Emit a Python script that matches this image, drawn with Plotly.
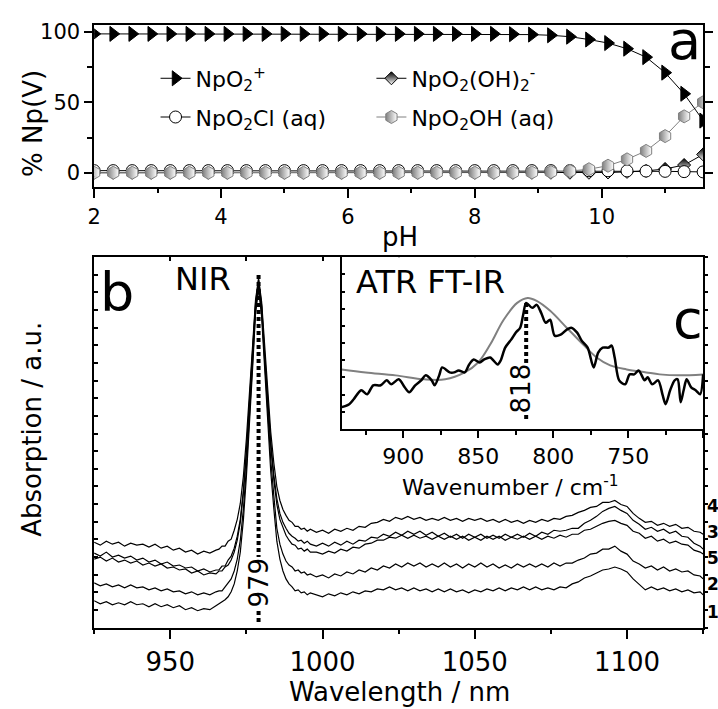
import plotly.graph_objects as go

FONT = "DejaVu Sans"
GRAY = "#808080"
W, H = 718, 709

# ---------------- (a) Np(V) speciation versus pH ----------------
PH = [2.0, 2.3, 2.6, 2.9, 3.2, 3.5, 3.8, 4.1, 4.4, 4.7, 5.0, 5.3, 5.6, 5.9, 6.2, 6.5,
      6.8, 7.1, 7.4, 7.7, 8.0, 8.3, 8.6, 8.9, 9.2, 9.5, 9.8, 10.1, 10.4, 10.7, 11.0,
      11.3, 11.6]
PCT_NPO2 = [98.5, 98.5, 98.5, 98.5, 98.5, 98.5, 98.5, 98.5, 98.5, 98.5, 98.5, 98.5,
            98.5, 98.5, 98.5, 98.5, 98.5, 98.5, 98.5, 98.5, 98.5, 98.5, 98.3, 98.0,
            97.5, 96.5, 94.5, 92.0, 88.0, 82.0, 71.0, 56.0, 37.0]
PCT_NPO2OH2 = [0, 0, 0, 0, 0, 0, 0, 0, 0, 0, 0, 0, 0, 0, 0, 0, 0, 0, 0, 0, 0, 0, 0,
               0, 0, 0, 0, 0.2, 0.6, 1.3, 2.7, 5.5, 13.0]
PCT_NPO2CL = [1.5, 1.5, 1.5, 1.5, 1.5, 1.5, 1.5, 1.5, 1.5, 1.5, 1.5, 1.5, 1.5, 1.5,
              1.5, 1.5, 1.5, 1.5, 1.5, 1.5, 1.5, 1.5, 1.5, 1.5, 1.5, 1.5, 1.4, 1.4,
              1.3, 1.2, 1.0, 0.8, 0.6]
PCT_NPO2OH = [0, 0, 0, 0, 0, 0, 0, 0, 0, 0, 0, 0, 0, 0, 0, 0, 0, 0, 0, 0, 0, 0, 0.1,
              0.2, 0.5, 1.2, 2.5, 5.0, 9.5, 15.5, 26.0, 40.0, 50.0]

# ---------------- (b) NIR spectra (offset, a.u.) ----------------
WAVELENGTH = (list(range(925, 966, 2)) + list(range(966, 997))
              + list(range(998, 1125, 2)) + [1125])
ABS_4 = [0.86, 0.83, 0.87, 0.84, 0.86, 0.82, 0.85, 0.83, 0.84, 0.81, 0.84, 0.80, 0.82,
         0.78, 0.80, 0.76, 0.78, 0.74, 0.77, 0.75, 0.78,
         0.79, 0.82, 0.82, 0.87, 0.89, 0.98, 1.09, 1.25, 1.52, 1.90, 2.33, 2.82, 3.30,
         3.52, 3.28, 2.81, 2.34, 1.97, 1.66, 1.42, 1.28, 1.19, 1.13, 1.08, 1.06, 1.02,
         1.02, 0.99, 1.00, 0.97, 0.99,
         0.96, 0.98, 0.95, 0.99, 0.97, 1.00, 0.98, 1.02, 1.01, 1.05,
         1.06, 1.09, 1.07, 1.11, 1.09, 1.12, 1.09, 1.11, 1.08, 1.10,
         1.08, 1.11, 1.08, 1.10, 1.07, 1.10, 1.08, 1.10, 1.07, 1.09,
         1.06, 1.09, 1.06, 1.08, 1.05, 1.08, 1.06, 1.09, 1.07, 1.10,
         1.09, 1.12, 1.13, 1.16, 1.18, 1.21, 1.22, 1.26, 1.26, 1.28,
         1.24, 1.22, 1.15, 1.10, 1.06, 1.07, 1.03, 1.05, 1.02, 1.04,
         1.00, 1.01, 0.97, 0.96, 0.94]
ABS_3 = [0.75, 0.72, 0.76, 0.71, 0.73, 0.70, 0.72, 0.68, 0.70, 0.66, 0.68, 0.64, 0.66,
         0.62, 0.63, 0.60, 0.61, 0.57, 0.59, 0.56, 0.58,
         0.58, 0.62, 0.62, 0.68, 0.72, 0.80, 0.92, 1.09, 1.38, 1.78, 2.24, 2.75, 3.27,
         3.50, 3.25, 2.76, 2.26, 1.87, 1.54, 1.30, 1.15, 1.06, 1.00, 0.95, 0.92, 0.90,
         0.87, 0.88, 0.85, 0.87, 0.84,
         0.82, 0.85, 0.82, 0.86, 0.83, 0.87, 0.84, 0.88, 0.87, 0.91,
         0.90, 0.94, 0.92, 0.96, 0.93, 0.97, 0.94, 0.97, 0.93, 0.96,
         0.92, 0.95, 0.91, 0.94, 0.90, 0.94, 0.91, 0.94, 0.90, 0.93,
         0.90, 0.94, 0.91, 0.94, 0.91, 0.95, 0.92, 0.96, 0.94, 0.98,
         0.97, 0.98, 1.00, 1.00, 1.05, 1.08, 1.12, 1.17, 1.20, 1.22,
         1.18, 1.15, 1.08, 1.04, 0.99, 1.01, 0.97, 0.99, 0.95, 0.97,
         0.92, 0.91, 0.85, 0.82, 0.79]
ABS_5 = [0.69, 0.71, 0.67, 0.70, 0.66, 0.68, 0.65, 0.67, 0.63, 0.65, 0.62, 0.64, 0.60,
         0.61, 0.58, 0.59, 0.55, 0.57, 0.53, 0.55, 0.54,
         0.57, 0.57, 0.61, 0.63, 0.68, 0.76, 0.88, 1.06, 1.35, 1.75, 2.21, 2.73, 3.24,
         3.48, 3.23, 2.72, 2.22, 1.83, 1.49, 1.24, 1.09, 1.00, 0.93, 0.88, 0.84, 0.83,
         0.79, 0.80, 0.77, 0.79, 0.76,
         0.76, 0.74, 0.77, 0.75, 0.79, 0.77, 0.81, 0.80, 0.84, 0.85,
         0.88, 0.88, 0.91, 0.90, 0.93, 0.90, 0.93, 0.90, 0.92, 0.89,
         0.92, 0.89, 0.92, 0.89, 0.92, 0.88, 0.91, 0.88, 0.92, 0.89,
         0.92, 0.88, 0.91, 0.89, 0.92, 0.89, 0.92, 0.89, 0.92, 0.90,
         0.93, 0.91, 0.94, 0.94, 0.98, 0.99, 1.02, 1.05, 1.07, 1.08,
         1.05, 1.03, 0.97, 0.95, 0.90, 0.92, 0.87, 0.89, 0.85, 0.87,
         0.84, 0.83, 0.78, 0.76, 0.74]
ABS_2 = [0.45, 0.42, 0.44, 0.41, 0.43, 0.40, 0.43, 0.40, 0.41, 0.38, 0.40, 0.37, 0.39,
         0.36, 0.37, 0.34, 0.36, 0.33, 0.35, 0.33, 0.36,
         0.37, 0.37, 0.41, 0.44, 0.49, 0.57, 0.69, 0.88, 1.19, 1.61, 2.10, 2.65, 3.20,
         3.45, 3.18, 2.64, 2.10, 1.69, 1.33, 1.00, 0.84, 0.74, 0.67, 0.63, 0.61, 0.57,
         0.58, 0.55, 0.56, 0.53, 0.54,
         0.51, 0.53, 0.50, 0.54, 0.52, 0.56, 0.54, 0.58, 0.56, 0.60,
         0.58, 0.62, 0.60, 0.64, 0.61, 0.65, 0.62, 0.65, 0.61, 0.64,
         0.61, 0.65, 0.61, 0.64, 0.60, 0.64, 0.61, 0.65, 0.61, 0.64,
         0.60, 0.63, 0.60, 0.64, 0.61, 0.64, 0.61, 0.64, 0.61, 0.65,
         0.62, 0.65, 0.65, 0.68, 0.70, 0.74, 0.75, 0.79, 0.79, 0.82,
         0.77, 0.74, 0.67, 0.64, 0.60, 0.62, 0.58, 0.61, 0.57, 0.59,
         0.56, 0.57, 0.53, 0.52, 0.49]
ABS_1 = [0.27, 0.24, 0.26, 0.23, 0.25, 0.23, 0.26, 0.23, 0.24, 0.21, 0.24, 0.21, 0.23,
         0.20, 0.22, 0.18, 0.20, 0.17, 0.19, 0.18, 0.22,
         0.24, 0.26, 0.28, 0.31, 0.36, 0.44, 0.57, 0.76, 1.08, 1.52, 2.02, 2.59, 3.16,
         3.41, 3.13, 2.57, 2.01, 1.57, 1.20, 0.87, 0.69, 0.57, 0.49, 0.44, 0.41, 0.37,
         0.38, 0.35, 0.36, 0.33, 0.35,
         0.33, 0.31, 0.34, 0.32, 0.35, 0.33, 0.36, 0.34, 0.37, 0.36,
         0.39, 0.38, 0.41, 0.38, 0.40, 0.37, 0.40, 0.37, 0.39, 0.36,
         0.39, 0.36, 0.39, 0.36, 0.38, 0.35, 0.38, 0.36, 0.39, 0.37,
         0.40, 0.37, 0.40, 0.38, 0.41, 0.38, 0.41, 0.38, 0.40, 0.38,
         0.41, 0.40, 0.44, 0.46, 0.50, 0.52, 0.55, 0.58, 0.59, 0.61,
         0.59, 0.56, 0.49, 0.43, 0.38, 0.41, 0.38, 0.40, 0.37, 0.39,
         0.36, 0.38, 0.35, 0.36, 0.33]
SPECTRA = [ABS_4, ABS_3, ABS_5, ABS_2, ABS_1]
SPECTRUM_LABELS = ["4", "3", "5", "2", "1"]
NIR_PEAK = 979
NIR_MARK_TOP = 3.55
NIR_MARK_BOTTOM = 0.04

# ---------------- (c) ATR FT-IR spectrum and fitted band ----------------
WAVENUMBER = [941, 936, 933, 928, 924, 920, 915, 911, 908, 903, 899, 896, 892, 888, 885,
              881, 879, 876, 874, 869, 866, 863, 859, 856, 853, 849, 846, 842, 837, 835,
              832, 828, 825, 822, 820, 818, 814, 811, 808, 805, 802, 799, 795, 791, 788,
              784, 781, 777, 773, 770, 767, 763, 761, 759, 756, 752, 749, 746, 743, 739,
              737, 734, 730, 727, 725, 722, 719, 717, 715, 713, 711, 708, 705, 702, 700]
IR_ABS = [0.22, 0.25, 0.30, 0.39, 0.35, 0.44, 0.44, 0.49, 0.45, 0.50, 0.42, 0.37, 0.44,
          0.49, 0.54, 0.49, 0.44, 0.54, 0.62, 0.57, 0.57, 0.59, 0.57, 0.65, 0.70, 0.67,
          0.70, 0.72, 0.65, 0.69, 0.82, 0.90, 0.97, 1.02, 1.15, 1.27, 1.22, 1.25, 1.17,
          1.07, 1.10, 0.94, 0.95, 1.00, 1.02, 0.97, 0.89, 0.82, 0.62, 0.77, 0.82, 0.82,
          0.84, 0.72, 0.49, 0.45, 0.55, 0.55, 0.59, 0.49, 0.52, 0.45, 0.49, 0.34, 0.25,
          0.39, 0.49, 0.50, 0.27, 0.39, 0.50, 0.42, 0.39, 0.35, 0.55]
FIT_WAVENUMBER = [941, 925, 905, 886, 872, 859, 850, 842, 833, 824, 817, 811, 802, 791,
                  780, 771, 762, 751, 738, 729, 716, 700]
FIT_ABS = [0.60, 0.57, 0.54, 0.50, 0.50, 0.57, 0.67, 0.85, 1.10, 1.27, 1.32, 1.29, 1.19,
           1.02, 0.85, 0.72, 0.64, 0.60, 0.57, 0.55, 0.54, 0.55]
IR_PEAK = 818
IR_MARK_TOP = 1.27
IR_MARK_BOTTOM = 0.09


def px(x):
    return x / W


def py(y):
    return 1 - y / H


fig = go.Figure()

# (a) species curves
species = [
    (PCT_NPO2OH2, "NpO<sub>2</sub>(OH)<sub>2</sub><sup>-</sup>", "legend2",
     dict(symbol="diamond", size=10, color="black",
          gradient=dict(type="vertical", color="white"),
          line=dict(color="black", width=1)), "black"),
    (PCT_NPO2CL, "NpO<sub>2</sub>Cl (aq)", "legend3",
     dict(symbol="circle", size=12, color="white",
          line=dict(color="black", width=1)), "black"),
    (PCT_NPO2OH, "NpO<sub>2</sub>OH (aq)", "legend4",
     dict(symbol="hexagon", size=13, color=GRAY,
          gradient=dict(type="horizontal", color="white"),
          line=dict(color=GRAY, width=1)), GRAY),
    (PCT_NPO2, "NpO<sub>2</sub><sup>+</sup>", "legend",
     dict(symbol="triangle-right", size=13, color="black",
          line=dict(color="black", width=1)), "black"),
]
for values, name, leg, marker, lcolor in species:
    fig.add_trace(go.Scatter(
        x=PH, y=values, mode="lines+markers", name=name, legend=leg,
        line=dict(color=lcolor, width=1), marker=marker,
        xaxis="x", yaxis="y", cliponaxis=True))

# (b) NIR spectra
for values in SPECTRA:
    fig.add_trace(go.Scatter(
        x=WAVELENGTH, y=values, mode="lines", showlegend=False,
        line=dict(color="black", width=1.2), xaxis="x2", yaxis="y2"))
fig.add_trace(go.Scatter(
    x=[NIR_PEAK, NIR_PEAK], y=[NIR_MARK_TOP, NIR_MARK_BOTTOM], mode="lines",
    showlegend=False, line=dict(color="black", width=4, dash="4px,3px"),
    xaxis="x2", yaxis="y2"))
# extra tick frame for panel b (top / right sides)
fig.add_trace(go.Scatter(x=[], y=[], showlegend=False, xaxis="x4", yaxis="y4"))

# (c) ATR FT-IR inset
fig.add_trace(go.Scatter(
    x=FIT_WAVENUMBER, y=FIT_ABS, mode="lines", showlegend=False,
    line=dict(color=GRAY, width=2, shape="spline", smoothing=1.0),
    xaxis="x3", yaxis="y3"))
fig.add_trace(go.Scatter(
    x=WAVENUMBER, y=IR_ABS, mode="lines", showlegend=False,
    line=dict(color="black", width=2.5, shape="spline", smoothing=0.8),
    xaxis="x3", yaxis="y3"))
fig.add_trace(go.Scatter(
    x=[IR_PEAK, IR_PEAK], y=[IR_MARK_TOP, IR_MARK_BOTTOM], mode="lines",
    showlegend=False, line=dict(color="black", width=4, dash="4px,3px"),
    xaxis="x3", yaxis="y3"))

axis_common = dict(showline=True, linecolor="black", linewidth=1.5, showgrid=False,
                   zeroline=False, tickcolor="black", tickwidth=1.5)

XDOM = [px(88), px(703)]
B_RANGE = [0, 3.73]
B_STEP = 3.73 / 21

fig.update_layout(
    width=W, height=H, autosize=False,
    margin=dict(l=0, r=0, t=0, b=0),
    paper_bgcolor="white", plot_bgcolor="white",
    font=dict(family=FONT, color="black"),
    xaxis=dict(domain=XDOM, anchor="y", range=[2, 11.6], tick0=2, dtick=2,
               ticks="outside", ticklen=10, mirror=True,
               minor=dict(dtick=1, ticks="outside", ticklen=5, tickwidth=1.5,
                          tickcolor="black"),
               tickfont=dict(size=21), **axis_common),
    yaxis=dict(domain=[py(183), py(20)], anchor="x", range=[-9.9, 104.9], tick0=0,
               dtick=50, ticks="outside", ticklen=8, mirror="ticks",
               minor=dict(dtick=25, ticks="outside", ticklen=5, tickwidth=1.5,
                          tickcolor="black"),
               tickfont=dict(size=21), **axis_common),
    xaxis2=dict(domain=XDOM, anchor="y2", range=[925, 1125], tick0=950, dtick=50,
                ticks="outside", ticklen=10, mirror=True,
                minor=dict(dtick=25, ticks="outside", ticklen=5, tickwidth=1.5,
                           tickcolor="black"),
                tickfont=dict(size=26), **axis_common),
    yaxis2=dict(domain=[py(627), py(254)], anchor="x2", range=B_RANGE, tick0=0,
                dtick=B_STEP, ticks="inside", ticklen=4, showticklabels=False,
                mirror=True, **axis_common),
    xaxis4=dict(overlaying="x2", anchor="y4", side="top", range=[925, 1125], tick0=925,
                dtick=25, ticks="inside", ticklen=4, showticklabels=False,
                showline=False, showgrid=False, zeroline=False, tickcolor="black",
                tickwidth=1.5),
    yaxis4=dict(overlaying="y2", anchor="x4", side="right", range=B_RANGE, tick0=0,
                dtick=B_STEP, ticks="outside", ticklen=4, showticklabels=False,
                showline=False, showgrid=False, zeroline=False, tickcolor="black",
                tickwidth=1.5),
    xaxis3=dict(domain=[px(338), px(703)], anchor="y3", range=[941, 700], tick0=750,
                dtick=50, ticks="outside", ticklen=7, mirror=True,
                minor=dict(dtick=25, ticks="outside", ticklen=4, tickwidth=1.5,
                           tickcolor="black"),
                tickfont=dict(size=22), **axis_common),
    yaxis3=dict(domain=[py(427), py(254)], anchor="x3", range=[0, 1.73], tick0=0,
                dtick=0.173, ticks="inside", ticklen=4, showticklabels=False,
                mirror=True, **axis_common),
)

leg_common = dict(xanchor="left", yanchor="middle", bgcolor="rgba(0,0,0,0)",
                  borderwidth=0, font=dict(family=FONT, size=22))
fig.update_layout(
    legend=dict(x=px(150), y=py(74), **leg_common),
    legend2=dict(x=px(368), y=py(74), **leg_common),
    legend3=dict(x=px(150), y=py(113), **leg_common),
    legend4=dict(x=px(368), y=py(113), **leg_common),
)

ann = []


def label(text, x, y, size, xanchor="center", yanchor="middle", angle=0, **kw):
    ann.append(dict(text=text, x=px(x), y=py(y), xref="paper", yref="paper",
                    xanchor=xanchor, yanchor=yanchor, textangle=angle,
                    showarrow=False, font=dict(family=FONT, size=size, color="black"),
                    **kw))


# axis titles
label("% Np(V)", 26, 119, 26, angle=-90)
label("pH", 397, 234, 26)
label("Absorption / a.u.", 25, 427, 26, angle=-90)
label("Wavelength / nm", 396, 692, 26)
label("Wavenumber / cm<sup>-1</sup>", 508, 484, 22)

# panel letters and captions
label("a", 703, 36, 54, xanchor="right")
label("b", 92, 290, 54, xanchor="left")
label("c", 705, 317, 54, xanchor="right")
label("NIR", 198, 276, 32)
label("ATR FT-IR", 350, 279, 32, xanchor="left")

# sample numbers beside the spectra
for text, ypos in zip(SPECTRUM_LABELS, [505, 531, 557, 583, 611]):
    label("<b>" + text + "</b>", 705, ypos, 17, xanchor="left")

# peak positions written on the dotted markers
ann.append(dict(text=str(NIR_PEAK), x=NIR_PEAK, y=0.45, xref="x2", yref="y2",
                textangle=-90, showarrow=False, bgcolor="white", borderpad=0,
                font=dict(family=FONT, size=26, color="black")))
ann.append(dict(text=str(IR_PEAK), x=IR_PEAK, y=0.41, xref="x3", yref="y3",
                xshift=-5, textangle=-90, showarrow=False, bgcolor="white",
                borderpad=0, font=dict(family=FONT, size=26, color="black")))

fig.update_layout(annotations=ann)

fig.write_html("out.html")
